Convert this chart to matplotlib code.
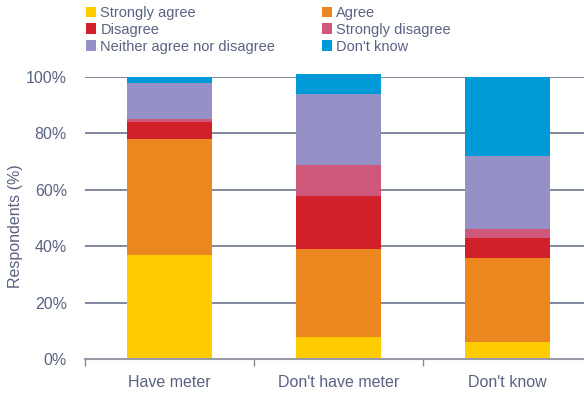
import numpy as np
import matplotlib.pyplot as plt
from matplotlib.patches import Patch

plt.rcParams['font.family'] = ['Liberation Sans', 'DejaVu Sans']

groups = ["Have meter", "Don't have meter", "Don't know"]
responses = ["Strongly agree", "Agree", "Disagree", "Strongly disagree",
             "Neither agree nor disagree", "Don't know"]
strongly_agree = [37, 8, 6]
agree = [41, 31, 30]
disagree = [6, 19, 7]
strongly_disagree = [1, 11, 3]
neither = [13, 25, 26]
dont_know = [2, 7, 28]

colors = ["#FFCC00", "#EB871E", "#D2202A", "#CF577A", "#9591C6", "#009AD8"]
text_col = "#5a6282"

series = [strongly_agree, agree, disagree, strongly_disagree, neither, dont_know]

fig = plt.figure(figsize=(5.84, 3.94), dpi=100)
ax = fig.add_axes([85 / 584, 1 - 359.3 / 394, 507 / 584, 282.3 / 394])

x = np.arange(len(groups))
bottom = np.zeros(len(groups))
for vals, c in zip(series, colors):
    ax.bar(x, vals, width=0.5, bottom=bottom, color=c, zorder=3, clip_on=False)
    bottom += np.array(vals)

ax.set_xlim(-0.5, 2.5)
ax.set_ylim(0, 100)
ax.set_yticks(np.arange(0, 101, 20))
ax.set_yticklabels([f"{v}%" for v in range(0, 101, 20)])
ax.yaxis.grid(True, color="#5f6784", linewidth=1.1, zorder=0)
ax.set_axisbelow(True)

ax.set_xticks(x)
ax.set_xticklabels(groups)
ax.set_xticks([-0.5, 0.5, 1.5, 2.5], minor=True)
ax.tick_params(axis="x", which="major", length=0, pad=11, labelsize=11.5, colors=text_col)
ax.tick_params(axis="x", which="minor", length=5, width=1, color="#8a8a96")
ax.tick_params(axis="y", length=0, pad=13, labelsize=11.5, colors=text_col)

for s in ["top", "right", "left"]:
    ax.spines[s].set_visible(False)
ax.spines["bottom"].set_color("#9a9aa6")
ax.spines["bottom"].set_linewidth(1.5)
ax.spines["bottom"].set_zorder(4)

ax.set_ylabel("Respondents (%)", fontsize=11.5, color=text_col)
ax.yaxis.set_label_coords(-0.122, 0.47)

# legend laid out in two columns, filled column-wise
handles = [Patch(facecolor=c, edgecolor="none") for c in colors]
order = [0, 2, 4, 1, 3, 5]
fig.legend([handles[i] for i in order], [responses[i] for i in order],
           ncol=2, loc="upper left", bbox_to_anchor=(77 / 584, 1 + 3 / 394),
           frameon=False, fontsize=10.5, handlelength=0.7, handleheight=0.7,
           handletextpad=0.3, columnspacing=3.2, labelspacing=0.2,
           borderpad=0.1, labelcolor=text_col)

fig.savefig("out.png", dpi=100)
